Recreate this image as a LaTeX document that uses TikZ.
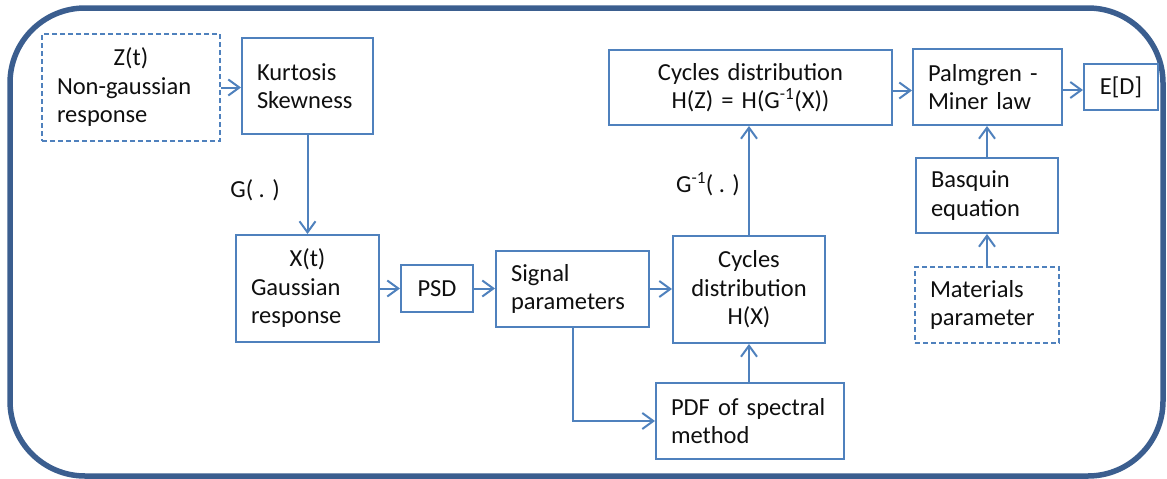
\documentclass[tikz,border=0pt]{standalone}
\usepackage{fontspec}
\setmainfont{Carlito}
\usetikzlibrary{arrows.meta}
\definecolor{boxblue}{RGB}{79,129,189}
\definecolor{frameblue}{RGB}{59,94,143}
\definecolor{txt}{RGB}{15,15,15}
\begin{document}
\begin{tikzpicture}[x=1pt,y=-1pt,
  every node/.style={font=\fontsize{24.5}{28.5}\selectfont, text=txt},
  bx/.style={draw=boxblue, line width=2pt, rectangle, inner xsep=15pt, inner ysep=0pt, align=left},
  cbx/.style={bx, align=center, inner xsep=4pt},
  dbx/.style={bx, dash pattern=on 5pt off 3pt},
  arr/.style={draw=boxblue, line width=2pt, -{Straight Barb[length=11pt,width=16pt]}},
  lbl/.style={inner sep=0pt}]

\useasboundingbox (0,0) rectangle (1167,479);
\draw[frameblue, line width=5.5pt, rounded corners=75pt] (10,8) rectangle (1163,476);

% nodes
\node[dbx, minimum width=178pt, minimum height=107pt, text width=148pt] (Z) at (131,87.5)
  {\makebox[\hsize]{Z(t)}\\Non-gaussian\\response};
\node[bx, minimum width=131pt, minimum height=96pt, text width=101pt] (K) at (307.5,86)
  {Kurtosis\\Skewness};
\node[bx, minimum width=143pt, minimum height=107pt, text width=113pt] (X) at (307.5,288.5)
  {\makebox[\hsize]{X(t)}\\Gaussian\\response};
\node[cbx, minimum width=72pt, minimum height=47pt, text width=64pt] (PSD) at (437,288.5) {PSD};
\node[bx, minimum width=153pt, minimum height=76pt, text width=123pt] (S) at (572.5,289)
  {Signal\\parameters};
\node[cbx, minimum width=152pt, minimum height=107pt, text width=144pt] (CX) at (749,289.5)
  {Cycles\\distribution\\H(X)};
\node[bx, minimum width=188pt, minimum height=76pt, text width=158pt] (P) at (750,421)
  {\mbox{PDF of spectral}\\method};
\node[cbx, minimum width=283pt, minimum height=75pt, text width=275pt] (CZ) at (750.5,87.5)
  {Cycles distribution\\H(Z) = H(G\textsuperscript{-1}(X))};
\node[bx, minimum width=149pt, minimum height=76pt, text width=119pt] (Pm) at (987.5,87)
  {\mbox{Palmgren -}\\\mbox{Miner law}};
\node[cbx, minimum width=74pt, minimum height=46pt, text width=66pt] (ED) at (1121,87) {E[D]};
\node[bx, minimum width=142pt, minimum height=75pt, text width=112pt] (B) at (987,195.5)
  {Basquin\\equation};
\node[dbx, minimum width=144pt, minimum height=76pt, text width=114pt] (M) at (987,305)
  {Materials\\parameter};

% labels
\node[lbl] (g) at (255,190) {G( . )};
\node[lbl] (gi) at (708,184) {G\textsuperscript{-1}( . )};

% connectors
\draw[arr] (Z.east) -- (Z.east -| K.west);
\draw[arr] (K.south) -- (K.south |- X.north);
\draw[arr] (X.east) -- (X.east -| PSD.west);
\draw[arr] (PSD.east) -- (PSD.east -| S.west);
\draw[arr] (S.east) -- (S.east -| CX.west);
\draw[arr] (S.south) |- (P.west);
\draw[arr] (P.north -| CX.south) -- (CX.south);
\draw[arr] (CX.north) -- (CX.north |- CZ.south);
\coordinate (c1) at ([yshift=-3pt]CZ.east);
\coordinate (c2) at ([yshift=-3pt]Pm.east);
\draw[arr] (c1) -- (c1 -| Pm.west);
\draw[arr] (c2) -- (c2 -| ED.west);
\draw[arr] (B.north) -- (B.north |- Pm.south);
\draw[arr] (M.north) -- (M.north |- B.south);
\end{tikzpicture}
\end{document}
